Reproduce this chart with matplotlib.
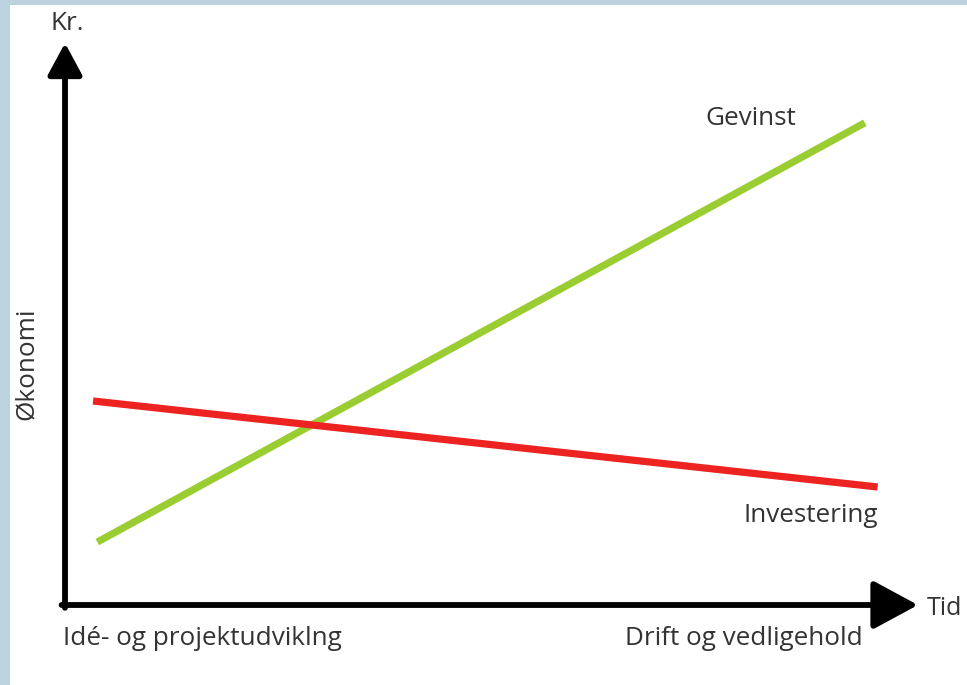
import matplotlib
matplotlib.use("Agg")
import matplotlib.pyplot as plt
from matplotlib.patches import Rectangle

# data (arbitrary units: tid 0-10, kr 0-10)
gevinst_tid = [0.38, 9.41]
gevinst_kr = [1.12, 8.58]
investering_tid = [0.33, 9.56]
investering_kr = [3.63, 2.10]

plt.rcParams['font.family'] = ['Open Sans', 'DejaVu Sans']
txt = '#333333'

fig = plt.figure(figsize=(9.67, 6.85), dpi=100, facecolor='#bad3de')
fig.patches.append(Rectangle((10/967, 0), 1, 680/685, transform=fig.transFigure,
                             facecolor='white', edgecolor='none', zorder=-5))

ax = fig.add_axes([65/967, 80/685, 850/967, 562/685])
ax.set_xlim(0, 10)
ax.set_ylim(0, 10)
ax.axis('off')

ax.plot(gevinst_tid, gevinst_kr, color='#9acd32', lw=5.2, solid_capstyle='butt')
ax.plot(investering_tid, investering_kr, color='#ec2320', lw=5.2, solid_capstyle='butt')

# axes with arrows
ax.annotate('', xy=(10.035, 0), xytext=(-0.04, 0), annotation_clip=False,
            arrowprops=dict(arrowstyle='-|>,head_length=1.85,head_width=1.0', lw=4.2,
                            color='black', mutation_scale=15, shrinkA=0, shrinkB=0))
ax.annotate('', xy=(0, 10), xytext=(0, -0.05), annotation_clip=False,
            arrowprops=dict(arrowstyle='-|>,head_length=1.3,head_width=0.7', lw=4.2,
                            color='black', mutation_scale=15, shrinkA=0, shrinkB=0))

fs = 18.8
ax.text(0.03, 10.23, 'Kr.', ha='center', va='baseline', fontsize=fs, color=txt)
ax.text(10.14, -0.18, 'Tid', ha='left', va='baseline', fontsize=18, color=txt)
ax.text(-0.376, 4.29, 'Økonomi', ha='center', va='baseline', rotation=90,
        rotation_mode='anchor', fontsize=fs, color=txt)
ax.text(-0.02, -0.71, 'Idé- og projektudviklng', ha='left', va='baseline', fontsize=fs, color=txt)
ax.text(9.39, -0.71, 'Drift og vedligehold', ha='right', va='baseline', fontsize=fs, color=txt)
ax.text(7.53, 8.54, 'Gevinst', ha='left', va='baseline', fontsize=fs, color=txt)
ax.text(7.98, 1.48, 'Investering', ha='left', va='baseline', fontsize=fs, color=txt)

fig.savefig('out.png', dpi=100, facecolor=fig.get_facecolor())
